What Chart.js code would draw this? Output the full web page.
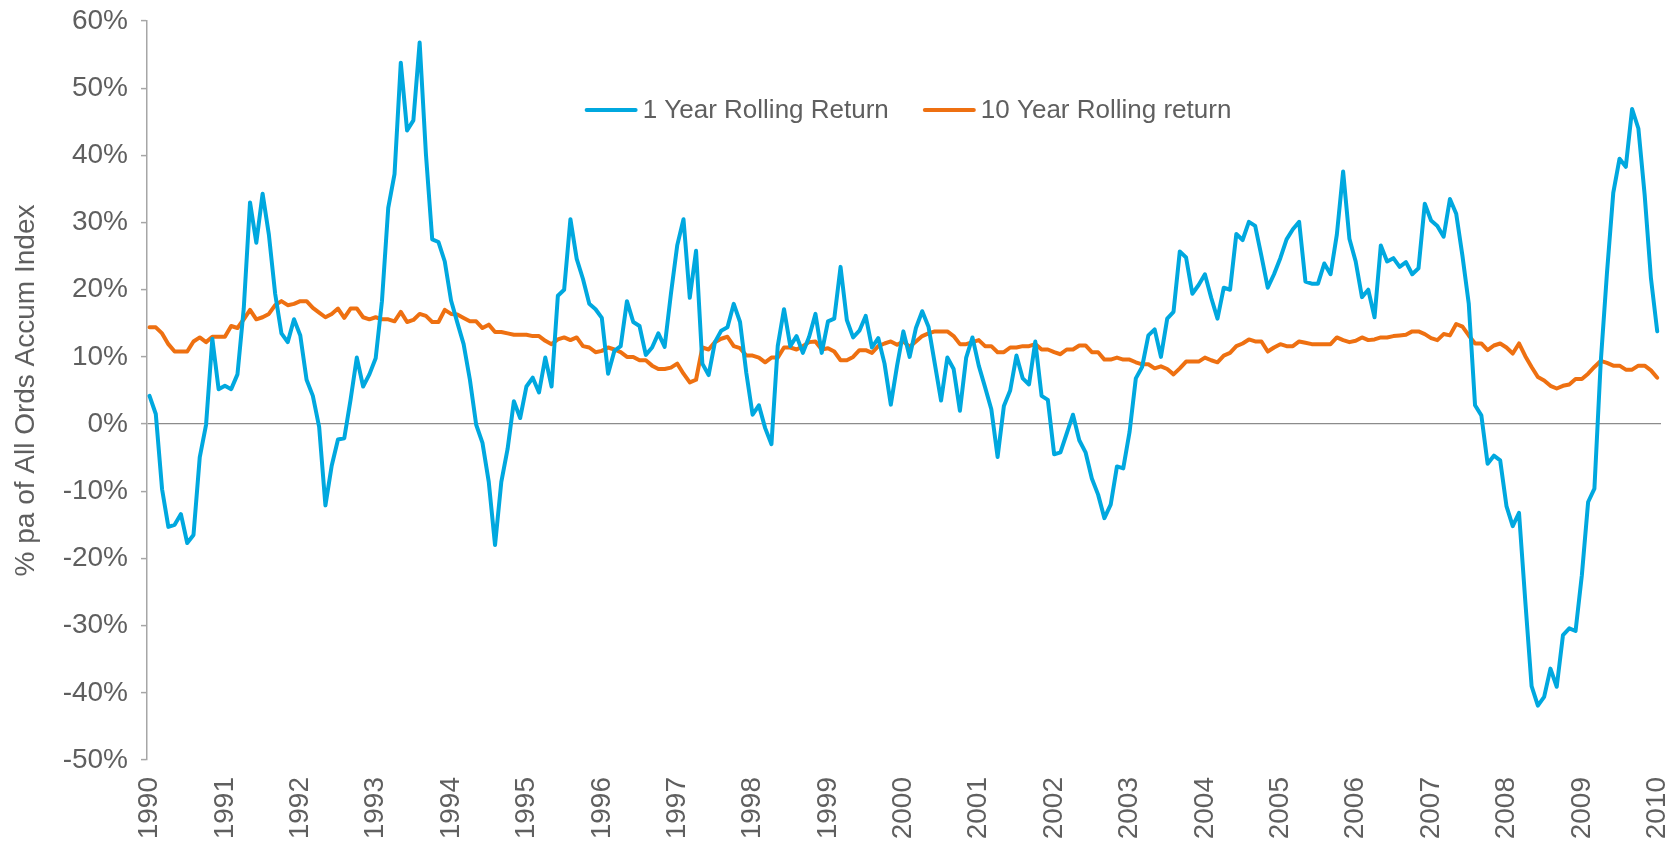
<!DOCTYPE html>
<html>
<head>
<meta charset="utf-8">
<script src="https://cdn.jsdelivr.net/npm/chart.js@4.4.1/dist/chart.umd.min.js"></script>
<style>
  html, body { margin: 0; padding: 0; background: #fff; }
  canvas { display: block; }
</style>
</head>
<body>
<canvas id="rollingChart" width="1675" height="844"></canvas>
<script>
// tick labels for the x axis, one per January
const yearLabels = ['1990', '1991', '1992', '1993', '1994', '1995', '1996', '1997', '1998', '1999', '2000',
    '2001', '2002', '2003', '2004', '2005', '2006', '2007', '2008', '2009', '2010'];

const seriesNames = ['1 Year Rolling Return', '10 Year Rolling return'];

// monthly values, Jan 1990 .. Jan 2010 (% pa)
const oneYear = [
    4.2, 1.5, -9.7, -15.3, -15.0, -13.4, -17.7, -16.5, -4.9, -0.1, 12.7, 5.2,
    5.7, 5.2, 7.4, 17.2, 33.0, 27.0, 34.3, 28.2, 19.4, 13.5, 12.2, 15.6,
    13.2, 6.6, 4.2, -0.4, -12.1, -6.2, -2.3, -2.1, 3.6, 9.9, 5.6, 7.4,
    9.8, 18.3, 32.2, 37.2, 53.8, 43.7, 45.2, 56.8, 40.2, 27.5, 27.1, 24.2,
    18.4, 15.1, 11.9, 6.6, -0.1, -2.8, -8.6, -18.0, -8.6, -3.7, 3.4, 0.9,
    5.6, 6.9, 4.7, 9.9, 5.6, 19.1, 20.0, 30.5, 24.6, 21.6, 17.9, 17.1,
    15.8, 7.5, 10.9, 11.6, 18.3, 15.2, 14.6, 10.3, 11.4, 13.5, 11.5, 19.4,
    26.6, 30.5, 18.8, 25.8, 9.0, 7.3, 12.2, 13.9, 14.4, 17.9, 15.2, 7.6,
    1.4, 2.8, -0.6, -3.0, 11.6, 17.1, 11.6, 13.1, 10.6, 13.0, 16.4, 10.6,
    15.3, 15.7, 23.4, 15.5, 12.9, 13.9, 16.1, 11.4, 12.8, 9.0, 2.9, 8.7,
    13.8, 10.0, 14.3, 16.8, 14.5, 9.0, 3.5, 9.9, 8.2, 2.0, 9.9, 12.9,
    8.7, 5.5, 2.2, -4.9, 2.7, 5.0, 10.2, 6.8, 5.9, 12.3, 4.2, 3.6,
    -4.5, -4.2, -1.4, 1.4, -2.4, -4.2, -8.1, -10.5, -14.0, -12.0, -6.3, -6.6,
    -1.2, 6.8, 8.5, 13.2, 14.1, 10.0, 15.7, 16.7, 25.7, 24.8, 19.4, 20.7,
    22.3, 18.8, 15.7, 20.3, 20.0, 28.3, 27.4, 30.1, 29.5, 25.0, 20.3, 22.3,
    24.7, 27.5, 29.0, 30.1, 21.2, 20.9, 20.9, 23.9, 22.3, 28.2, 37.6, 27.6,
    24.2, 18.9, 20.0, 15.9, 26.6, 24.2, 24.7, 23.4, 24.1, 22.3, 23.2, 32.8,
    30.3, 29.5, 27.9, 33.5, 31.3, 25.0, 17.9, 2.8, 1.3, -5.9, -4.7, -5.4,
    -12.2, -15.2, -13.2, -26.4, -39.0, -41.9, -40.6, -36.4, -39.1, -31.4, -30.4, -30.8,
    -22.5, -11.6, -9.6, 9.1, 22.5, 34.4, 39.5, 38.3, 46.9, 44.0, 34.1, 21.7,
    13.8
];

const tenYear = [
    14.4, 14.4, 13.5, 11.9, 10.8, 10.8, 10.8, 12.3, 12.9, 12.2, 13.0, 13.0,
    13.0, 14.6, 14.3, 15.6, 17.0, 15.6, 15.9, 16.4, 17.7, 18.3, 17.7, 17.9,
    18.3, 18.3, 17.3, 16.6, 15.9, 16.4, 17.2, 15.8, 17.2, 17.2, 15.9, 15.6,
    15.9, 15.6, 15.6, 15.3, 16.7, 15.2, 15.5, 16.4, 16.1, 15.2, 15.2, 17.0,
    16.4, 16.3, 15.8, 15.3, 15.3, 14.3, 14.8, 13.7, 13.7, 13.5, 13.3, 13.3,
    13.3, 13.1, 13.1, 12.4, 11.9, 12.6, 12.9, 12.5, 12.9, 11.6, 11.4, 10.7,
    10.9, 11.4, 11.1, 10.7, 10.0, 10.0, 9.5, 9.5, 8.7, 8.2, 8.2, 8.4,
    9.0, 7.5, 6.2, 6.6, 11.4, 11.1, 12.2, 12.7, 13.0, 11.6, 11.3, 10.2,
    10.2, 9.9, 9.2, 9.9, 9.9, 11.4, 11.4, 11.1, 11.6, 12.2, 12.3, 11.1,
    11.3, 10.8, 9.5, 9.5, 10.0, 11.0, 11.0, 10.6, 11.6, 12.0, 12.3, 11.8,
    12.3, 11.5, 12.3, 13.1, 13.5, 13.8, 13.8, 13.8, 13.1, 11.9, 11.9, 12.2,
    12.5, 11.6, 11.6, 10.7, 10.7, 11.4, 11.4, 11.6, 11.6, 11.9, 11.1, 11.1,
    10.7, 10.4, 11.1, 11.1, 11.7, 11.7, 10.7, 10.7, 9.6, 9.6, 9.9, 9.6,
    9.6, 9.2, 8.9, 8.9, 8.3, 8.6, 8.2, 7.4, 8.3, 9.3, 9.3, 9.3,
    9.9, 9.5, 9.2, 10.2, 10.6, 11.6, 12.0, 12.6, 12.3, 12.3, 10.8, 11.4,
    11.9, 11.6, 11.6, 12.3, 12.1, 11.9, 11.9, 11.9, 11.9, 12.9, 12.5, 12.2,
    12.4, 12.9, 12.5, 12.6, 12.9, 12.9, 13.1, 13.2, 13.3, 13.8, 13.8, 13.4,
    12.8, 12.5, 13.4, 13.2, 14.9, 14.5, 13.2, 12.0, 12.0, 11.0, 11.7, 12.0,
    11.4, 10.5, 12.0, 10.1, 8.5, 7.0, 6.5, 5.7, 5.3, 5.7, 5.9, 6.7,
    6.7, 7.5, 8.5, 9.4, 9.1, 8.7, 8.7, 8.1, 8.1, 8.7, 8.7, 8.0,
    6.9
];

const BLUE = '#00a8df';
const ORANGE = '#ee7011';
const TEXT = '#5f5f5f';
const FONT = "'Liberation Sans', Arial, Helvetica, sans-serif";

// x is month number since Jan 1990
function toPoints(arr) {
    return arr.map((v, i) => ({ x: i, y: v }));
}

// legend drawn inside the plot, like the original
const insideLegend = {
    id: 'insideLegend',
    afterDraw(chart) {
        const ctx = chart.ctx;
        const area = chart.chartArea;
        const lineLen = 49, gap = 7, spacing = 36;
        ctx.save();
        ctx.font = '26px ' + FONT;
        const w1 = ctx.measureText(seriesNames[0]).width;
        const w2 = ctx.measureText(seriesNames[1]).width;
        const total = lineLen + gap + w1 + spacing + lineLen + gap + w2;
        let x = (area.left + area.right) / 2 + 5 - total / 2;
        const y = area.top + 89;
        [[seriesNames[0], BLUE, w1], [seriesNames[1], ORANGE, w2]].forEach(([name, color, w]) => {
            ctx.strokeStyle = color;
            ctx.lineWidth = 4;
            ctx.lineCap = 'round';
            ctx.beginPath();
            ctx.moveTo(x, y);
            ctx.lineTo(x + lineLen, y);
            ctx.stroke();
            ctx.fillStyle = TEXT;
            ctx.textBaseline = 'middle';
            ctx.textAlign = 'left';
            ctx.fillText(name, x + lineLen + gap, y + 1);
            x += lineLen + gap + w + spacing;
        });
        ctx.restore();
    }
};

const ctx = document.getElementById('rollingChart').getContext('2d');
new Chart(ctx, {
    type: 'line',
    data: {
        datasets: [{
            label: seriesNames[0],
            data: toPoints(oneYear),
            borderColor: BLUE,
            borderWidth: 4,
            pointRadius: 0,
            tension: 0,
            borderJoinStyle: 'round',
            borderCapStyle: 'round'
        }, {
            label: seriesNames[1],
            data: toPoints(tenYear),
            borderColor: ORANGE,
            borderWidth: 4,
            pointRadius: 0,
            tension: 0,
            borderJoinStyle: 'round',
            borderCapStyle: 'round'
        }]
    },
    options: {
        responsive: false,
        animation: false,
        devicePixelRatio: 1,
        layout: { padding: { top: 21, right: 14, left: 0, bottom: 0 } },
        plugins: {
            legend: { display: false },
            tooltip: { enabled: false }
        },
        scales: {
            x: {
                type: 'linear',
                min: -0.4,
                max: 240.6,
                afterBuildTicks: function(scale) {
                    scale.ticks = yearLabels.map((y, i) => ({ value: i * 12 }));
                },
                afterFit: function(scale) {
                    scale.height = 84;
                    scale.paddingLeft = 0;
                    scale.paddingRight = 0;
                },
                grid: { display: false, drawTicks: false },
                border: { display: false },
                ticks: {
                    autoSkip: false,
                    maxRotation: 90,
                    minRotation: 90,
                    padding: 17,
                    color: TEXT,
                    font: { size: 28, family: FONT },
                    callback: function(value) { return yearLabels[Math.round(value / 12)]; }
                }
            },
            y: {
                min: -50,
                max: 60,
                afterFit: function(scale) {
                    scale.width = 147;
                    scale.paddingTop = 0;
                    scale.paddingBottom = 0;
                },
                ticks: {
                    stepSize: 10,
                    padding: 13,
                    color: TEXT,
                    font: { size: 28, family: FONT },
                    callback: function(value) { return value + '%'; }
                },
                grid: {
                    drawOnChartArea: true,
                    tickLength: 6,
                    tickColor: '#a6a6a6',
                    tickWidth: 1.5,
                    lineWidth: 1.2,
                    color: function(c) { return c.tick && c.tick.value === 0 ? '#8c8c8c' : 'rgba(0,0,0,0)'; }
                },
                border: { display: true, color: '#a6a6a6', width: 1.5 },
                title: {
                    display: true,
                    text: '% pa of All Ords Accum Index',
                    color: TEXT,
                    font: { size: 28, family: FONT },
                    padding: { top: 9, bottom: 0 }
                }
            }
        }
    },
    plugins: [insideLegend]
});
</script>
</body>
</html>
